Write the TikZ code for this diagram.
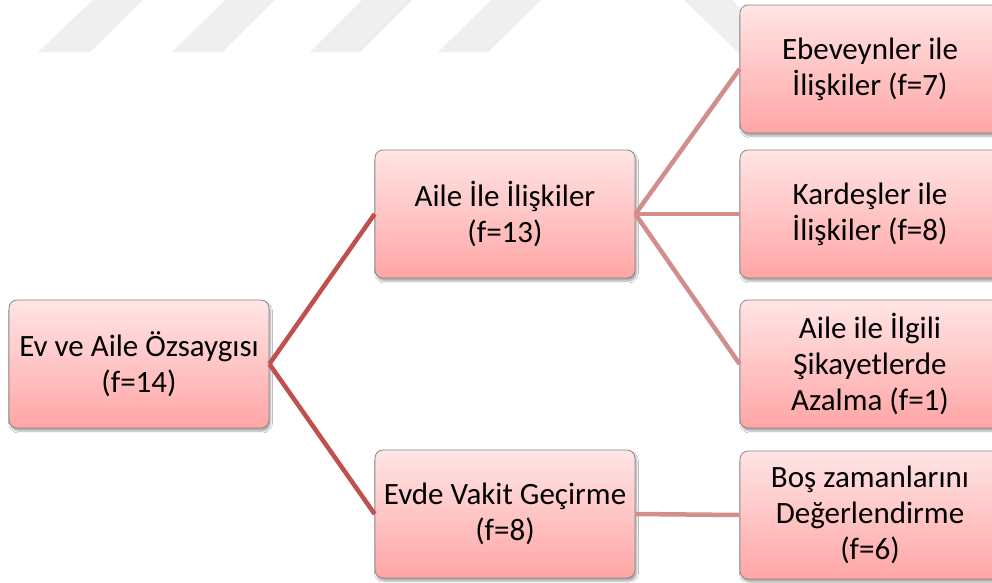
\documentclass[tikz,border=0pt]{standalone}
\usepackage{fontspec}
\setmainfont{Carlito}
\usetikzlibrary{shadows.blur}
\definecolor{boxtop}{RGB}{255,229,229}
\definecolor{boxbot}{RGB}{255,165,165}
\definecolor{boxline}{RGB}{135,135,135}
\definecolor{linkA}{RGB}{192,80,77}
\definecolor{linkB}{RGB}{210,142,140}
\definecolor{stripe}{RGB}{239,239,239}
\begin{document}
\begin{tikzpicture}[x=1pt,y=-1pt,
  box/.style={rectangle, rounded corners=8pt, draw=boxline, line width=0.8pt,
    top color=boxtop, bottom color=boxbot,
    minimum width=260pt, minimum height=128pt, inner sep=2pt,
    align=center, font=\fontsize{31}{36}\selectfont,
    blur shadow={shadow xshift=1.5pt, shadow yshift=-3pt, shadow blur steps=6, shadow opacity=35}},
  linkone/.style={draw=linkA, line width=4.5pt},
  linktwo/.style={draw=linkB, line width=4.5pt}]
\useasboundingbox (0,0) rectangle (992,582);
\clip (0,0) rectangle (992,582);
\fill[white] (0,0) rectangle (992,582);

% light grey bars along the top edge
\fill[stripe] (38,52) -- (90,52) -- (143,0) -- (93,0) -- cycle;
\fill[stripe] (172,52) -- (222,52) -- (275,0) -- (225,0) -- cycle;
\fill[stripe] (310,52) -- (360,52) -- (412,0) -- (362,0) -- cycle;
\fill[stripe] (438,52) -- (488,52) -- (541,0) -- (491,0) -- cycle;
\fill[stripe] (684,0) -- (732,0) -- (792,58) -- (744,58) -- cycle;

% boxes
\node[box] (root) at (139,364) {Ev ve Aile Özsaygısı\\(f=14)};
\node[box] (aile) at (505,214) {Aile İle İlişkiler\\(f=13)};
\node[box] (evde) at (505,514) {Evde Vakit Geçirme\\(f=8)};
\node[box] (ebe) at (870,69) {Ebeveynler ile\\İlişkiler (f=7)};
\node[box] (kar) at (870,214) {Kardeşler ile\\İlişkiler (f=8)};
\node[box] (sik) at (870,364) {Aile ile İlgili\\Şikayetlerde\\Azalma (f=1)};
\node[box] (bos) at (870,515) {Boş zamanlarını\\Değerlendirme\\(f=6)};

% connectors
\draw[linkone] (root.east) -- (aile.west);
\draw[linkone] (root.east) -- (evde.west);
\draw[linktwo] (aile.east) -- (ebe.west);
\draw[linktwo] (aile.east) -- (kar.west);
\draw[linktwo] (aile.east) -- (sik.west);
\draw[linktwo] (evde.east) -- (bos.west);
\end{tikzpicture}
\end{document}
